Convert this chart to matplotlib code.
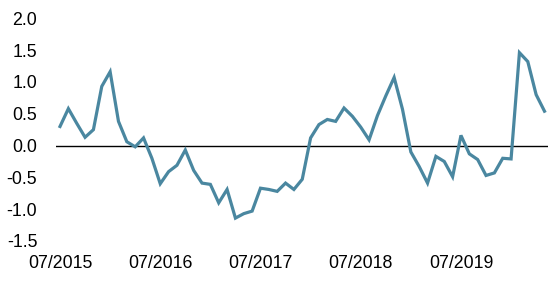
import matplotlib
matplotlib.use("Agg")
import matplotlib.pyplot as plt
import pandas as pd

plt.rcParams['font.family'] = ['Liberation Sans', 'DejaVu Sans']

months = pd.date_range("2015-07-01", periods=59, freq="MS")
values = [0.30, 0.58, 0.35, 0.13, 0.25, 0.93, 1.16, 0.38, 0.06, -0.02,
          0.12, -0.20, -0.60, -0.41, -0.31, -0.07, -0.39, -0.59, -0.61, -0.90,
          -0.69, -1.14, -1.07, -1.03, -0.67, -0.69, -0.72, -0.59, -0.69, -0.53,
          0.12, 0.33, 0.41, 0.38, 0.59, 0.46, 0.29, 0.09, 0.47, 0.78,
          1.07, 0.57, -0.10, -0.33, -0.59, -0.17, -0.25, -0.49, 0.16, -0.13,
          -0.22, -0.47, -0.43, -0.20, -0.21, 1.46, 1.32, 0.80, 0.54]
xtick_labels = ["07/2015", "07/2016", "07/2017", "07/2018", "07/2019"]
yticks = [-1.5, -1.0, -0.5, 0.0, 0.5, 1.0, 1.5, 2.0]

fig = plt.figure(figsize=(5.59, 2.87), dpi=100)
ax = fig.add_axes([56/559, 1-241/287, (548-56)/559, (241-18.3)/287])

x = list(range(len(values)))
ax.plot(x, values, color='#4a87a0', lw=2.3, solid_joinstyle='miter')
ax.axhline(0, color='black', lw=1.0, zorder=1)

ax.set_xlim(-0.48, 58.42)
ax.set_ylim(-1.5, 2.0)
ax.set_yticks(yticks)
ax.set_yticklabels([f"{v:.1f}" for v in yticks])
ax.set_xticks([0, 12, 24, 36, 48])
ax.set_xticklabels(xtick_labels)
ax.tick_params(axis='both', length=0, labelsize=12.8, colors='black')
ax.tick_params(axis='y', pad=13.5)
ax.tick_params(axis='x', pad=10.0)
for s in ax.spines.values():
    s.set_visible(False)

fig.savefig("out.png", dpi=100)
